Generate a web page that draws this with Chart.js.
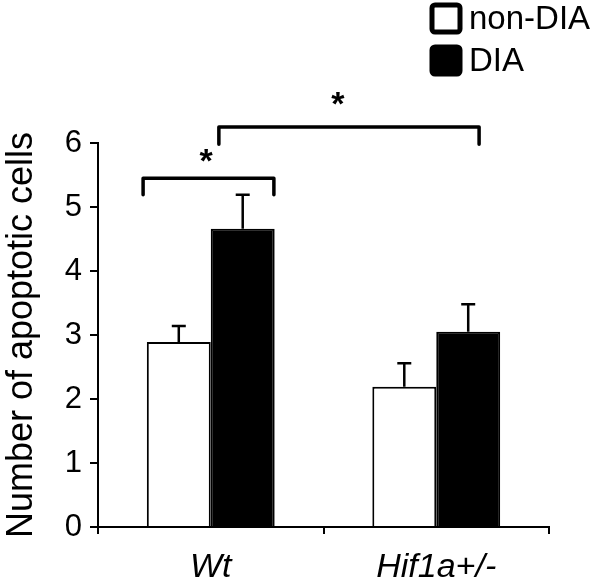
<!DOCTYPE html>
<html>
<head>
<meta charset="utf-8">
<script src="https://cdn.jsdelivr.net/npm/chart.js@4"></script>
<style>
html,body{margin:0;padding:0;background:#fff;}
canvas{display:block;}
</style>
</head>
<body>
<canvas id="c" width="600" height="583"></canvas>
<script>
const categories = ['Wt', 'Hif1a+/-'];
const seriesNames = ['non-DIA', 'DIA'];
const nonDIA = [2.89, 2.19];
const DIA = [4.66, 3.05];
const nonDIAErr = [0.25, 0.37];
const DIAErr = [0.53, 0.43];
const yTickValues = [0, 1, 2, 3, 4, 5, 6];
const sigLabels = ['*', '*'];

const FONT = "'Liberation Sans', Arial, Helvetica, sans-serif";

// significance brackets (x in category units, y in data units)
const brackets = [
  {from: -0.30, to: 0.28, y: 5.45, leg: 5.19, starX: -0.02, starY: 5.78},
  {from: 0.036, to: 1.19, y: 6.25, leg: 5.98, starX: 0.564, starY: 6.67}
];

const errorBars = {
  id: 'errorBars',
  afterDatasetsDraw(chart) {
    const ctx = chart.ctx;
    const y = chart.scales.y;
    const errs = [nonDIAErr, DIAErr];
    ctx.save();
    ctx.strokeStyle = '#000';
    ctx.lineWidth = 2.5;
    chart.data.datasets.forEach((ds, di) => {
      const meta = chart.getDatasetMeta(di);
      meta.data.forEach((bar, i) => {
        const v = ds.data[i];
        const top = y.getPixelForValue(v + errs[di][i]);
        const base = y.getPixelForValue(v);
        const x = bar.x;
        ctx.beginPath();
        ctx.moveTo(x, base);
        ctx.lineTo(x, top);
        ctx.moveTo(x - 7, top);
        ctx.lineTo(x + 7, top);
        ctx.stroke();
      });
    });
    ctx.restore();
  }
};

const sigPlugin = {
  id: 'sig',
  afterDraw(chart) {
    const ctx = chart.ctx;
    const xs = chart.scales.x, ys = chart.scales.y;
    const x0 = xs.getPixelForValue(0), x1 = xs.getPixelForValue(1);
    const px = v => x0 + v * (x1 - x0);
    ctx.save();
    ctx.strokeStyle = '#000';
    ctx.lineWidth = 3.5;
    ctx.lineJoin = 'round';
    ctx.lineCap = 'round';
    brackets.forEach((b, i) => {
      const yTop = ys.getPixelForValue(b.y);
      const yLeg = ys.getPixelForValue(b.leg);
      ctx.beginPath();
      ctx.moveTo(px(b.from), yLeg);
      ctx.lineTo(px(b.from), yTop);
      ctx.lineTo(px(b.to), yTop);
      ctx.lineTo(px(b.to), yLeg);
      ctx.stroke();
      ctx.fillStyle = '#000';
      ctx.font = 'bold 34px ' + FONT;
      ctx.textAlign = 'center';
      ctx.textBaseline = 'middle';
      ctx.fillText(sigLabels[i], px(b.starX), ys.getPixelForValue(b.starY) + 6);
    });
    ctx.restore();
  }
};

const legendPlugin = {
  id: 'customLegend',
  afterDraw(chart) {
    const ctx = chart.ctx;
    ctx.save();
    const items = [
      {label: seriesNames[0], fill: '#fff', top: 5},
      {label: seriesNames[1], fill: '#000', top: 47}
    ];
    items.forEach(it => {
      ctx.fillStyle = it.fill;
      ctx.strokeStyle = '#000';
      ctx.lineWidth = 5;
      ctx.beginPath();
      if (ctx.roundRect) ctx.roundRect(432, it.top, 28, 27, 3); else ctx.rect(432, it.top, 28, 27);
      ctx.fill();
      ctx.stroke();
      ctx.fillStyle = '#000';
      ctx.font = '33px ' + FONT;
      ctx.textAlign = 'left';
      ctx.textBaseline = 'middle';
      ctx.fillText(it.label, 469, it.top + 15);
    });
    ctx.restore();
  }
};

new Chart(document.getElementById('c'), {
  type: 'bar',
  data: {
    labels: categories,
    datasets: [
      {label: seriesNames[0], data: nonDIA, backgroundColor: '#fff', borderColor: '#000', borderWidth: 2},
      {label: seriesNames[1], data: DIA, backgroundColor: '#000', borderColor: '#000', borderWidth: 2}
    ]
  },
  options: {
    responsive: false,
    animation: false,
    events: [],
    layout: {padding: {top: 143, right: 51, bottom: 0, left: 0}},
    plugins: {legend: {display: false}, tooltip: {enabled: false}},
    datasets: {bar: {categoryPercentage: 0.567, barPercentage: 1.0}},
    scales: {
      x: {
        afterFit(s) { s.height = 56; },
        grid: {display: true, drawOnChartArea: false, drawTicks: true, tickLength: 7, offset: true, color: '#000', lineWidth: 2},
        border: {display: true, color: '#000', width: 2},
        ticks: {color: '#000', padding: 13, font: {family: FONT, size: 34, style: 'italic'}}
      },
      y: {
        min: 0, max: 6,
        afterFit(s) { s.width = 98; },
        afterBuildTicks(s) { s.ticks = yTickValues.map(v => ({value: v})); },
        grid: {display: true, drawOnChartArea: false, drawTicks: true, tickLength: 8, color: '#000', lineWidth: 2},
        border: {display: true, color: '#000', width: 2},
        ticks: {color: '#000', padding: 8, font: {family: FONT, size: 31}},
        title: {display: true, text: 'Number of apoptotic cells', color: '#000', padding: {top: 0, bottom: 0}, font: {family: FONT, size: 36}}
      }
    }
  },
  plugins: [errorBars, sigPlugin, legendPlugin]
});
</script>
</body>
</html>
